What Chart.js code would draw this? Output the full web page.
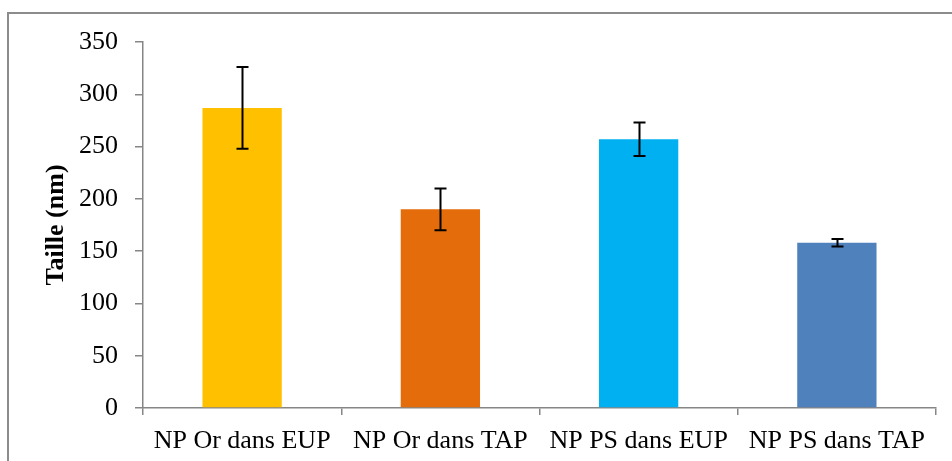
<!DOCTYPE html>
<html>
<head>
<meta charset="utf-8">
<script src="https://cdn.jsdelivr.net/npm/chart.js@4.4.1/dist/chart.umd.min.js"></script>
<style>
  html, body { margin: 0; padding: 0; background: #fff; }
  #wrap { position: relative; width: 952px; height: 461px; overflow: hidden; }
  #frame { position: absolute; left: 7px; top: 12px; width: 960px; height: 470px;
           border-left: 2px solid #8c8c8c; border-top: 2px solid #8c8c8c; }
  #chart { position: absolute; left: 0; top: 0; }
</style>
</head>
<body>
<div id="wrap">
  <div id="frame"></div>
  <canvas id="chart" width="952" height="461"></canvas>
</div>
<script>
const categories = ['NP Or dans EUP', 'NP Or dans TAP', 'NP PS dans EUP', 'NP PS dans TAP'];
const sizes = [287, 190, 257, 158];
const errors = [39, 20, 16, 3.5];
const barColors = ['#FFC000', '#E46C0A', '#00B0F0', '#4F81BD'];
const yTicks = [0, 50, 100, 150, 200, 250, 300, 350];

const axisGray = '#868686';

const errorBars = {
    id: 'errorBars',
    afterDatasetsDraw(chart) {
        const ctx = chart.ctx;
        const meta = chart.getDatasetMeta(0);
        const y = chart.scales.y;
        ctx.save();
        ctx.strokeStyle = '#000';
        ctx.lineWidth = 2;
        meta.data.forEach((bar, i) => {
            const x = Math.round(bar.x) + 0.5;
            const top = y.getPixelForValue(sizes[i] + errors[i]);
            const bot = y.getPixelForValue(sizes[i] - errors[i]);
            ctx.beginPath();
            ctx.moveTo(x, top);
            ctx.lineTo(x, bot);
            ctx.moveTo(x - 6, top);
            ctx.lineTo(x + 6, top);
            ctx.moveTo(x - 6, bot);
            ctx.lineTo(x + 6, bot);
            ctx.stroke();
        });
        ctx.restore();
    }
};

new Chart(document.getElementById('chart'), {
    type: 'bar',
    data: {
        labels: categories,
        datasets: [{
            data: sizes,
            backgroundColor: barColors,
            borderWidth: 0,
            barPercentage: 0.4,
            categoryPercentage: 1.0
        }]
    },
    options: {
        responsive: false,
        animation: false,
        layout: { padding: { left: 0, top: 42, right: 16, bottom: 0 } },
        plugins: {
            legend: { display: false },
            tooltip: { enabled: false }
        },
        scales: {
            x: {
                grid: {
                    display: true,
                    drawOnChartArea: false,
                    drawTicks: true,
                    tickLength: 7,
                    color: axisGray,
                    lineWidth: 1.5,
                    offset: true
                },
                border: { color: axisGray, width: 1.5 },
                ticks: {
                    color: '#000',
                    padding: 11,
                    maxRotation: 0,
                    font: { family: 'Liberation Serif', size: 26 }
                },
                afterFit(scale) { scale.height = 53; }
            },
            y: {
                min: 0,
                max: 350,
                afterBuildTicks(scale) { scale.ticks = yTicks.map(v => ({ value: v })); },
                grid: {
                    display: true,
                    drawOnChartArea: false,
                    drawTicks: true,
                    tickLength: 8,
                    color: axisGray,
                    lineWidth: 1.5
                },
                border: { color: axisGray, width: 1.5 },
                ticks: {
                    color: '#000',
                    padding: 17,
                    font: { family: 'Liberation Serif', size: 26 }
                },
                title: {
                    display: true,
                    text: 'Taille (nm)',
                    color: '#000',
                    padding: { top: 41, bottom: 0 },
                    font: { family: 'Liberation Serif', size: 26, weight: 'bold' }
                },
                afterFit(scale) { scale.width = 143; }
            }
        }
    },
    plugins: [errorBars]
});
</script>
</body>
</html>
